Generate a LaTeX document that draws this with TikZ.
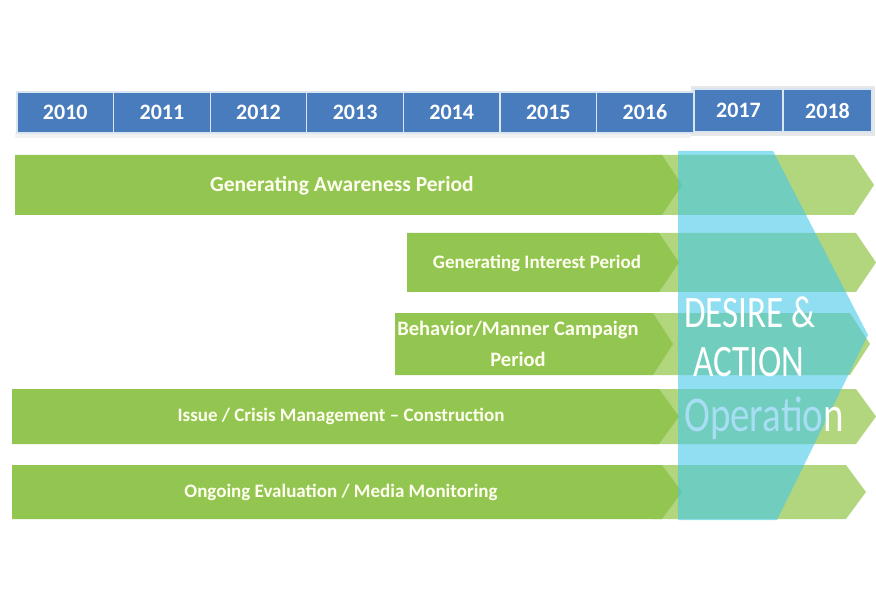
\documentclass[tikz,border=0pt]{standalone}
\usepackage{fontspec}
\setmainfont{Carlito}
\definecolor{yearblue}{RGB}{72,124,188}
\definecolor{bargreen}{RGB}{146,198,80}
\definecolor{lightgreen}{RGB}{178,214,126}
\definecolor{overblue}{RGB}{70,200,232}
\definecolor{opblue}{RGB}{168,222,244}
\newcommand{\narrow}[1]{\scalebox{0.78}[1]{#1}}
\tikzset{
  yearbox/.style={fill=yearblue, draw=white!80!yearblue, line width=1.2pt, minimum height=41pt,
    inner sep=0pt, text=white, font=\bfseries\fontsize{22}{22}\selectfont},
  darkbar/.style={fill=bargreen},
  lightbar/.style={fill=lightgreen},
  bartext/.style={text=white!94!yellow, font=\bfseries\fontsize{19}{31}\selectfont, align=center},
  bigtext/.style={text=white, font=\fontsize{45}{45}\selectfont}
}
\begin{document}
\begin{tikzpicture}[x=1pt, y=-1pt]
  \useasboundingbox (0,0) rectangle (876,604);
  % year header
  \fill[gray!18] (691,86) rectangle (875,136);
  \fill[gray!10] (15,133) rectangle (691,138);
  \foreach \yr [count=\i from 0] in {2010,2011,2012,2013,2014,2015,2016}
    \node[yearbox, minimum width=96.6pt] (y\yr) at (17+96.6*\i+48.3,112.5) {\yr};
  \node[yearbox, minimum width=89pt, minimum height=43pt] (y2017) at (738.5,110.5) {2017};
  \node[yearbox, minimum width=89pt, minimum height=43pt] (y2018) at (827.5,110.5) {2018};
  % light chevrons (2017-2018)
  \foreach \ya/\yb/\tip in {155/215/874, 233/292/876, 313/375/870, 389/444/876, 465/519/866}
    \fill[lightbar] (652,\ya) -- (\tip-20,\ya) -- (\tip,{(\ya+\yb)/2}) -- (\tip-20,\yb)
      -- (652,\yb) -- (672,{(\ya+\yb)/2}) -- cycle;
  % dark bars
  \foreach \ya/\yb/\xa/\tip in {155/215/15/682, 233/292/407/679, 313/375/395/673, 389/444/12/679, 465/519/12/682}
    \fill[darkbar] (\xa,\ya) -- (\tip-20,\ya) -- (\tip,{(\ya+\yb)/2}) -- (\tip-20,\yb)
      -- (\xa,\yb) -- cycle;
  \node[bartext, font=\bfseries\fontsize{21.5}{22}\selectfont] (aware) at (342,186) {Generating Awareness Period};
  \node[bartext] (interest) at (537,263) {Generating Interest Period};
  \node[bartext, font=\bfseries\fontsize{20.5}{31}\selectfont] (behave) at (518,344) {Behavior/Manner Campaign\\Period};
  \node[bartext] (issue) at (341,416) {Issue / Crisis Management – Construction};
  \node[bartext] (media) at (341,492) {Ongoing Evaluation / Media Monitoring};
  % desire & action overlay
  \fill[overblue, opacity=0.6] (678,151) -- (773,151) -- (868,335) -- (777,520)
    -- (678,520) -- cycle;
  \node[bigtext] (desire) at (750,312) {\narrow{DESIRE \&}};
  \node[bigtext] (action) at (749,362) {\narrow{ACTION}};
  \node[bigtext, font=\fontsize{50}{50}\selectfont] (oper) at (764,418) {\narrow{\textcolor{opblue}{Operatio}n}};
\end{tikzpicture}
\end{document}
